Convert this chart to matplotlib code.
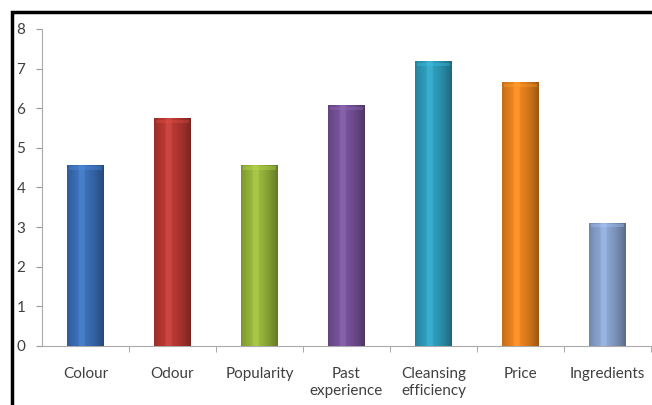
import numpy as np
import matplotlib.pyplot as plt
import matplotlib.colors as mcolors
from matplotlib.patches import Rectangle

categories = ['Colour', 'Odour', 'Popularity', 'Past\nexperience',
              'Cleansing\nefficiency', 'Price', 'Ingredients']
values = [4.55, 5.73, 4.55, 6.06, 7.17, 6.64, 3.10]
colors = ['#3C72BE', '#BF3A34', '#9BBB3C', '#7A549E', '#2EA2C2', '#F2871F', '#8DA8D6']

plt.rcParams['font.family'] = ['Lato', 'DejaVu Sans']

fig = plt.figure(figsize=(6.52, 4.05), dpi=100)
ax = fig.add_axes([0.0644, 0.1457, 0.934, 0.7827])

x = np.arange(len(categories))
bars = ax.bar(x, values, width=0.42, color=colors, zorder=2)

# cylinder-like horizontal shading on each bar
t = np.linspace(0, 1, 64)
shade = 1.0 - 0.35 * np.abs(t - 0.4) ** 1.5 * 2.2
shade = np.clip(shade, 0.62, 1.05)
for b, c in zip(bars, colors):
    rgb = np.array(mcolors.to_rgb(c))
    row = np.clip(rgb[None, :] * shade[:, None] + 0.05 * (shade[:, None] > 0.98), 0, 1)
    img = np.repeat(row[None, :, :], 2, axis=0)
    x0, w, h = b.get_x(), b.get_width(), b.get_height()
    ax.imshow(img, extent=[x0, x0 + w, 0, h], aspect='auto', zorder=3,
              interpolation='bilinear')
    # soft bevel on top
    ax.add_patch(Rectangle((x0 + w * 0.06, h - 0.1), w * 0.88, 0.08,
                           color=np.clip(rgb * 1.12 + 0.05, 0, 1), alpha=0.35,
                           zorder=4, lw=0))
    b.set_visible(False)

ax.set_xlim(-0.5, len(categories) - 0.5)
ax.set_ylim(0, 8)
ax.set_yticks(range(0, 9))

ax.set_xticks(x)
ax.set_xticklabels(categories, fontsize=11, color='#404040', linespacing=1.25)
ax.set_xticks(np.arange(0.5, len(categories), 1), minor=True)
ax.tick_params(axis='x', which='major', length=0, pad=15)
ax.tick_params(axis='x', which='minor', length=4, color='#999999', direction='out')
ax.tick_params(axis='y', length=4, color='#999999', labelsize=11,
               labelcolor='#404040', pad=8)

for s in ['top', 'right']:
    ax.spines[s].set_visible(False)
ax.spines['left'].set_color('#AAAAAA')
ax.spines['bottom'].set_color('#AAAAAA')

# outer black frame (cut by the image edge on right and bottom)
fig.patches.append(Rectangle((12 / 652, -0.05), 1.0, (405 - 12) / 405 + 0.05,
                             transform=fig.transFigure, fill=False,
                             edgecolor='black', linewidth=2.5, zorder=10))

plt.savefig('out.png', dpi=100)
